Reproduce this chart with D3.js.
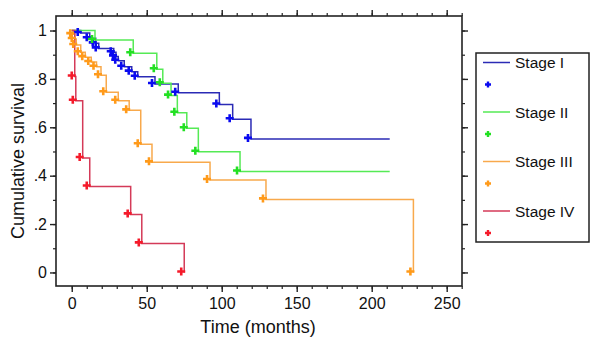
<!DOCTYPE html>
<html>
<head>
<meta charset="utf-8">
<script src="https://cdn.jsdelivr.net/npm/d3@7"></script>
<style>
  body { margin: 0; background: #fff; }
  svg { display: block; font-family: "Liberation Sans", Arial, Helvetica, sans-serif; }
</style>
</head>
<body>
<script>
// Kaplan-Meier data: event time (months) and survival after it
var stageNames = ["Stage I", "Stage II", "Stage III", "Stage IV"];

var stage1Time = [6, 12, 16, 18, 28, 29.5, 31, 35, 40, 44, 55.5, 71, 98.4, 107.3, 119.5];
var stage1Surv = [0.99, 0.968, 0.947, 0.926, 0.91, 0.893, 0.875, 0.85, 0.83, 0.809, 0.779, 0.743, 0.694, 0.633, 0.552];

var stage2Time = [15.5, 41, 56.7, 60.7, 66.2, 70.4, 76.7, 84.4, 112.2];
var stage2Surv = [0.961, 0.906, 0.84, 0.782, 0.731, 0.66, 0.596, 0.499, 0.417];

var stage3Time = [1, 2, 3, 6, 9, 13, 16.5, 19.5, 23, 31, 38.3, 46, 53.5, 92.2, 129.5, 227.8];
var stage3Surv = [0.985, 0.965, 0.94, 0.91, 0.89, 0.87, 0.85, 0.815, 0.745, 0.71, 0.67, 0.53, 0.455, 0.382, 0.302, 0];

var stage4Time = [2, 2.7, 7.3, 12, 39.3, 46.7, 75];
var stage4Surv = [0.81, 0.71, 0.473, 0.355, 0.24, 0.12, 0];

// last follow-up time (where the flat tail stops)
var followUpEnd = [212, 212, 227.8, 75];

var xTicks = [0, 50, 100, 150, 200, 250];
var yTicks = [0, 0.2, 0.4, 0.6, 0.8, 1];
var yTickLabels = ["0", ".2", ".4", ".6", ".8", "1"];

var lineColors = ["#2b2bb5", "#55ea55", "#f8a94c", "#d43a58"];
var markColors = ["#0a0af0", "#22e022", "#ff9a1a", "#f51a2a"];

var width = 593, height = 337;
var margin = {left: 56, right: 131, top: 16, bottom: 51};

var svg = d3.select("body").append("svg")
    .attr("width", width)
    .attr("height", height);

var x = d3.scaleLinear().domain([-10.5, 260.2]).range([margin.left, width - margin.right]);
var y = d3.scaleLinear().domain([-0.056, 1.06]).range([height - margin.bottom, margin.top]);

var minorX = d3.range(0, 261, 10);
var minorY = d3.range(0, 1.01, 0.1);

// axes on all four sides, ticks pointing outward
function tickAxis(axis, g, minor, major, fmt) {
    g.call(axis.tickValues(minor).tickSize(3).tickFormat(""));
    g.selectAll(".tick line").attr("stroke", "#222").attr("stroke-width", 1.2);
    var gm = svg.append("g").attr("transform", g.attr("transform"));
    gm.call(axis.tickValues(major).tickSize(6).tickFormat(fmt || ""));
    gm.selectAll(".tick line").attr("stroke", "#222").attr("stroke-width", 1.4);
    g.select(".domain").remove();
    gm.select(".domain").remove();
    return gm;
}

var gBottom = svg.append("g").attr("transform", "translate(0," + (height - margin.bottom) + ")");
var bottomMajor = tickAxis(d3.axisBottom(x), gBottom, minorX, xTicks, d3.format("d"));
bottomMajor.selectAll("text")
    .attr("font-size", 16).attr("fill", "#111").attr("dy", "0.85em");

var gTop = svg.append("g").attr("transform", "translate(0," + margin.top + ")");
tickAxis(d3.axisTop(x), gTop, minorX, xTicks);

var gLeft = svg.append("g").attr("transform", "translate(" + margin.left + ",0)");
var leftMajor = tickAxis(d3.axisLeft(y), gLeft, minorY, yTicks, function(d, i) { return yTickLabels[i]; });
leftMajor.selectAll("text")
    .attr("font-size", 16).attr("fill", "#111").attr("x", -9);

var gRight = svg.append("g").attr("transform", "translate(" + (width - margin.right) + ",0)");
tickAxis(d3.axisRight(y), gRight, minorY, yTicks);

// plot frame
svg.append("rect")
    .attr("x", margin.left)
    .attr("y", margin.top)
    .attr("width", width - margin.left - margin.right)
    .attr("height", height - margin.top - margin.bottom)
    .attr("fill", "none")
    .attr("stroke", "#222")
    .attr("stroke-width", 1.6);

// axis titles
svg.append("text")
    .attr("transform", "translate(24," + 161 + ") rotate(-90)")
    .attr("text-anchor", "middle")
    .attr("font-size", 18)
    .attr("fill", "#111")
    .text("Cumulative survival");

svg.append("text")
    .attr("x", 258)
    .attr("y", 333)
    .attr("text-anchor", "middle")
    .attr("font-size", 18)
    .attr("fill", "#111")
    .text("Time (months)");

// build the curves
var times = [stage1Time, stage2Time, stage3Time, stage4Time];
var survs = [stage1Surv, stage2Surv, stage3Surv, stage4Surv];

var curves = times.map(function(t, k) {
    var events = t.map(function(d, i) { return [d, survs[k][i]]; });
    var pts = [[0, 1]].concat(events);
    var last = events[events.length - 1];
    if (followUpEnd[k] > last[0]) pts.push([followUpEnd[k], last[1]]);
    return {events: events, pts: pts};
});

var line = d3.line()
    .x(function(d) { return x(d[0]); })
    .y(function(d) { return y(d[1]); })
    .curve(d3.curveStepAfter);

var marker = "M-4,0H4M0,-4V4";

curves.forEach(function(c, k) {
    svg.append("path")
        .datum(c.pts)
        .attr("d", line)
        .attr("fill", "none")
        .attr("stroke", lineColors[k])
        .attr("stroke-width", 1.5);
});

curves.forEach(function(c, k) {
    svg.selectAll(".mk" + k)
        .data(c.events).enter()
        .append("path")
        .attr("class", "mk" + k)
        .attr("d", marker)
        .attr("transform", function(d) {
            return "translate(" + (x(d[0]) - 3) + "," + (y(d[1]) - 1) + ")";
        })
        .attr("stroke", markColors[k])
        .attr("stroke-width", 2.6)
        .attr("fill", "none");
});

// legend
var legend = svg.append("g");
legend.append("rect")
    .attr("x", 476)
    .attr("y", 53)
    .attr("width", 113)
    .attr("height", 189)
    .attr("fill", "#fff")
    .attr("stroke", "#222")
    .attr("stroke-width", 1.5);

var item = legend.selectAll(".legend")
    .data(stageNames).enter()
    .append("g")
    .attr("class", "legend")
    .attr("transform", function(d, i) { return "translate(0," + (62.5 + i * 49.5) + ")"; });

item.append("line")
    .attr("x1", 483).attr("x2", 510)
    .attr("y1", 0).attr("y2", 0)
    .attr("stroke", function(d, i) { return lineColors[i]; })
    .attr("stroke-width", 1.5);

item.append("text")
    .attr("x", 515)
    .attr("y", 0)
    .attr("dy", "0.36em")
    .attr("font-size", 15.5)
    .attr("fill", "#111")
    .text(function(d) { return d; });

item.append("path")
    .attr("d", "M-3,0H3M0,-3V3")
    .attr("transform", "translate(488,22)")
    .attr("stroke", function(d, i) { return markColors[i]; })
    .attr("stroke-width", 2.4)
    .attr("fill", "none");
</script>
</body>
</html>
